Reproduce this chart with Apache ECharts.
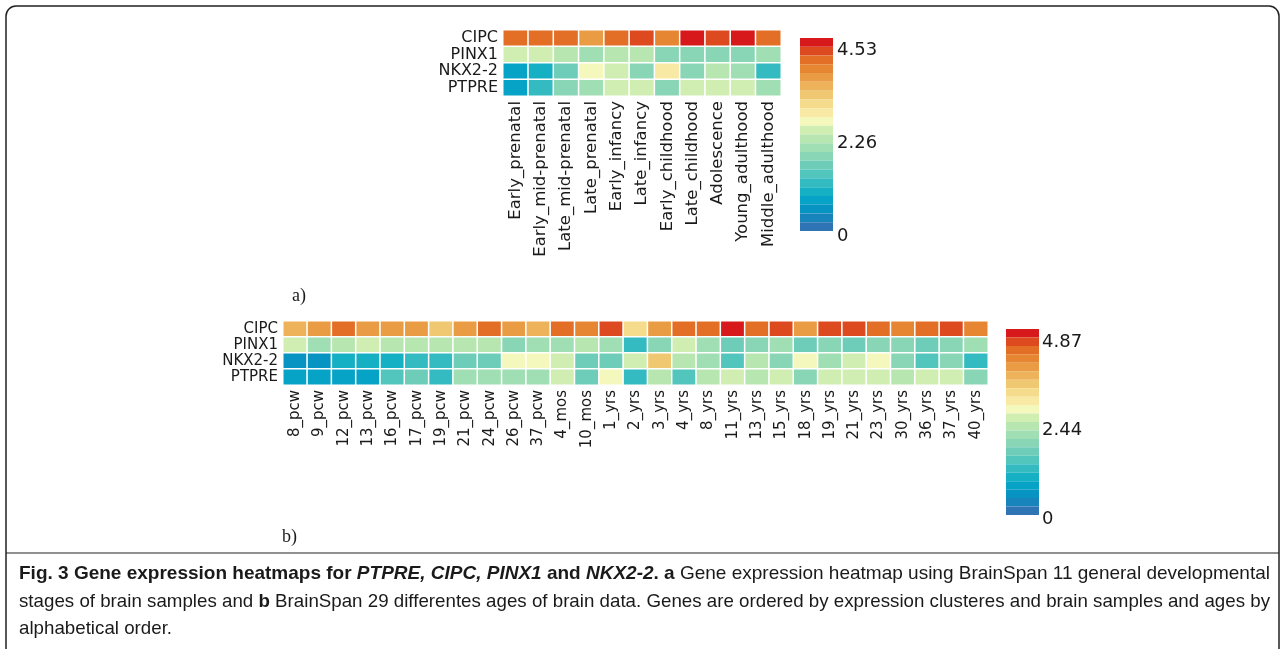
<!DOCTYPE html>
<html lang="en">
<head>
    <meta charset="UTF-8">
    <title>Gene expression heatmaps</title>
    <script src="https://cdn.jsdelivr.net/npm/echarts@6/dist/echarts.min.js"></script>
    <style>
        *{ padding:0; margin:0; box-sizing:border-box; }
        body{ background:#fff; }
        #main{ width:1285px; height:649px; }
    </style>
</head>
<body>
    <div id="main"></div>
    <script>
        var genes=["CIPC","PINX1","NKX2-2","PTPRE"]
        // a) 11 general developmental stages
        var stagesA=["Early_prenatal","Early_mid-prenatal","Late_mid-prenatal","Late_prenatal","Early_infancy","Late_infancy","Early_childhood","Late_childhood","Adolescence","Young_adulthood","Middle_adulthood"]
        var cipcA =[3.98,3.97,3.93,3.65,4.08,4.21,3.72,4.48,4.25,4.36,4.09]
        var pinx1A=[2.35,2.33,2.25,1.98,2.15,2.08,1.80,1.85,1.78,1.72,2.05]
        var nkx22A=[0.75,0.90,1.50,2.60,2.45,1.65,2.80,1.78,2.15,2.05,1.12]
        var ptpreA=[0.72,1.10,1.72,1.95,2.38,2.30,1.78,2.30,2.32,2.42,2.05]
        var maxA=4.53
        var ticksA=["4.53","2.26","0"]

        // b) 29 ages
        var agesB=["8_pcw","9_pcw","12_pcw","13_pcw","16_pcw","17_pcw","19_pcw","21_pcw","24_pcw","26_pcw","37_pcw","4_mos","10_mos","1_yrs","2_yrs","3_yrs","4_yrs","8_yrs","11_yrs","13_yrs","15_yrs","18_yrs","19_yrs","21_yrs","23_yrs","30_yrs","36_yrs","37_yrs","40_yrs"]
        var cipcB =[3.65,3.88,4.30,3.98,3.90,3.85,3.40,3.98,4.30,3.85,3.65,4.25,4.00,4.45,3.20,3.90,4.25,4.40,4.85,4.40,4.60,3.90,4.45,4.60,4.35,4.15,4.38,4.55,4.15]
        var pinx1B=[2.55,2.20,2.40,2.45,2.30,2.25,2.40,2.30,2.35,1.90,2.00,2.10,2.30,2.05,1.20,1.90,2.50,2.00,1.70,1.90,2.00,1.55,1.90,1.72,1.78,1.85,1.72,1.78,2.10]
        var nkx22B=[0.55,0.55,0.95,0.97,1.00,1.25,1.30,1.60,1.68,2.75,2.70,2.60,1.62,1.70,2.65,3.40,2.35,2.00,1.50,2.25,1.80,2.85,2.00,2.45,2.75,1.90,1.40,1.90,1.25]
        var ptpreB=[0.75,0.70,0.85,0.82,1.45,1.60,1.25,2.20,2.10,2.05,2.15,2.60,1.62,2.75,1.20,2.30,1.50,2.30,2.45,2.40,2.65,1.85,2.60,2.60,2.45,2.40,2.60,2.60,1.85]
        var maxB=4.87
        var ticksB=["4.87","2.44","0"]

        // colour bands of the legend, bottom (low) to top (high)
        var bandColors=["#2f74b5","#1784bc","#0894c2","#06a3c6","#16b0c5","#34bbc1","#52c5bd","#6ecdb9","#88d6b6","#a0deb3","#b8e6b0","#d0eeb2","#f4f8bc","#f8eaa4","#f5dc8c","#f1c872","#edb25a","#ea9c44","#e78632","#e36e26","#de4a20","#d7191c"]

        // caption, one list of [text, style] pieces per line
        var captionLines=[
            [["Fig. 3 Gene expression heatmaps for ","b"],["PTPRE, CIPC, PINX1","bi"],[" and ","b"],["NKX2-2","bi"],[". a","b"],[" Gene expression heatmap using BrainSpan 11 general developmental","n"]],
            [["stages of brain samples and ","n"],["b","b"],[" BrainSpan 29 differentes ages of brain data. Genes are ordered by expression clusteres and brain samples and ages by","n"]],
            [["alphabetical order.","n"]]
        ]

        function toCells(rows){
            var out=[]
            rows.forEach(function(row,y){
                row.forEach(function(v,x){ out.push([x,y,v]) })
            })
            return out
        }
        function makePieces(max){
            var step=max/bandColors.length
            return bandColors.map(function(c,i){
                var p={gte:i*step,color:c}
                if(i===bandColors.length-1){ p.lte=max } else { p.lt=(i+1)*step }
                return p
            })
        }

        var capFamily="Liberation Sans"
        var capSize=19
        var capStyles={
            b:{fontFamily:capFamily,fontSize:capSize,fontWeight:"bold",fill:"#1a1a1a"},
            bi:{fontFamily:capFamily,fontSize:capSize,fontWeight:"bold",fontStyle:"italic",fill:"#1a1a1a"},
            n:{fontFamily:capFamily,fontSize:capSize,fill:"#1a1a1a"}
        }
        // squeeze the caption so the full lines span the box like the condensed original
        var ctx=document.createElement("canvas").getContext("2d")
        function lineWidth(parts){
            var w=0
            parts.forEach(function(p){
                var s=p[1]
                ctx.font=(s==="bi"?"italic ":"")+(s!=="n"?"bold ":"")+capSize+"px '"+capFamily+"'"
                w+=ctx.measureText(p[0]).width
            })
            return w
        }
        var capTarget=1251
        var sx1=capTarget/lineWidth(captionLines[0])
        var sx2=capTarget/lineWidth(captionLines[1])
        var capScales=[sx1,sx2,sx2]
        var capY=[574,602,629]
        var captionGraphics=captionLines.map(function(parts,i){
            return {type:"text",x:19,y:capY[i],scaleX:capScales[i],silent:true,style:{
                text:parts.map(function(p){ return "{"+p[1]+"|"+p[0]+"}" }).join(""),
                verticalAlign:"middle",rich:capStyles}}
        })

        var fontA={fontFamily:"DejaVu Sans",fontSize:16.5,color:"#1a1a1a"}
        var fontB={fontFamily:"DejaVu Sans",fontSize:15,color:"#1a1a1a"}
        var tickFont={fontFamily:"DejaVu Sans",fontSize:18,fill:"#1a1a1a",verticalAlign:"middle"}

        var myCharts=echarts.init(document.getElementById("main"))
        var option={
            animation:false,
            grid:[
                {left:503,top:30,width:278,height:66},
                {left:283,top:321,width:705,height:64}
            ],
            xAxis:[
                {type:"category",gridIndex:0,data:stagesA,axisLine:{show:false},axisTick:{show:false},
                    axisLabel:Object.assign({rotate:90,margin:5,interval:0},fontA),splitArea:{show:false}},
                {type:"category",gridIndex:1,data:agesB,axisLine:{show:false},axisTick:{show:false},
                    axisLabel:Object.assign({rotate:90,margin:5,interval:0},fontB),splitArea:{show:false}}
            ],
            yAxis:[
                {type:"category",gridIndex:0,data:genes,inverse:true,axisLine:{show:false},axisTick:{show:false},
                    axisLabel:Object.assign({margin:5,interval:0},fontA,{fontSize:16})},
                {type:"category",gridIndex:1,data:genes,inverse:true,axisLine:{show:false},axisTick:{show:false},
                    axisLabel:Object.assign({margin:5,interval:0},fontB)}
            ],
            visualMap:[
                {type:"piecewise",seriesIndex:0,pieces:makePieces(maxA),orient:"vertical",left:800,top:38,
                    itemWidth:33,itemHeight:193/22,itemGap:0,itemSymbol:"rect",showLabel:false,
                    selectedMode:false,hoverLink:false,padding:0},
                {type:"piecewise",seriesIndex:1,pieces:makePieces(maxB),orient:"vertical",left:1006,top:329,
                    itemWidth:33,itemHeight:186/22,itemGap:0,itemSymbol:"rect",showLabel:false,
                    selectedMode:false,hoverLink:false,padding:0}
            ],
            series:[
                {type:"heatmap",xAxisIndex:0,yAxisIndex:0,data:toCells([cipcA,pinx1A,nkx22A,ptpreA]),
                    itemStyle:{borderColor:"#fff",borderWidth:1.5}},
                {type:"heatmap",xAxisIndex:1,yAxisIndex:1,data:toCells([cipcB,pinx1B,nkx22B,ptpreB]),
                    itemStyle:{borderColor:"#fff",borderWidth:1.5}}
            ],
            graphic:[
                // frame and caption divider
                {type:"rect",shape:{x:6,y:6,width:1273,height:680,r:10},style:{fill:null,stroke:"#222",lineWidth:1.5},silent:true},
                {type:"line",shape:{x1:6,y1:553,x2:1279,y2:553},style:{stroke:"#222",lineWidth:1.2},silent:true},
                // legend tick labels
                {type:"text",x:837,y:50,style:Object.assign({text:ticksA[0]},tickFont)},
                {type:"text",x:837,y:143,style:Object.assign({text:ticksA[1]},tickFont)},
                {type:"text",x:837,y:236,style:Object.assign({text:ticksA[2]},tickFont)},
                {type:"text",x:1042,y:342,style:Object.assign({text:ticksB[0]},tickFont)},
                {type:"text",x:1042,y:430,style:Object.assign({text:ticksB[1]},tickFont)},
                {type:"text",x:1042,y:519,style:Object.assign({text:ticksB[2]},tickFont)},
                // panel labels
                {type:"text",x:292,y:296,style:{text:"a)",fontFamily:"Liberation Serif",fontSize:18,fill:"#1a1a1a",verticalAlign:"middle"}},
                {type:"text",x:282,y:537,style:{text:"b)",fontFamily:"Liberation Serif",fontSize:18,fill:"#1a1a1a",verticalAlign:"middle"}}
            ].concat(captionGraphics)
        }
        myCharts.setOption(option)
        window.onresize=myCharts.resize
    </script>
</body>
</html>
